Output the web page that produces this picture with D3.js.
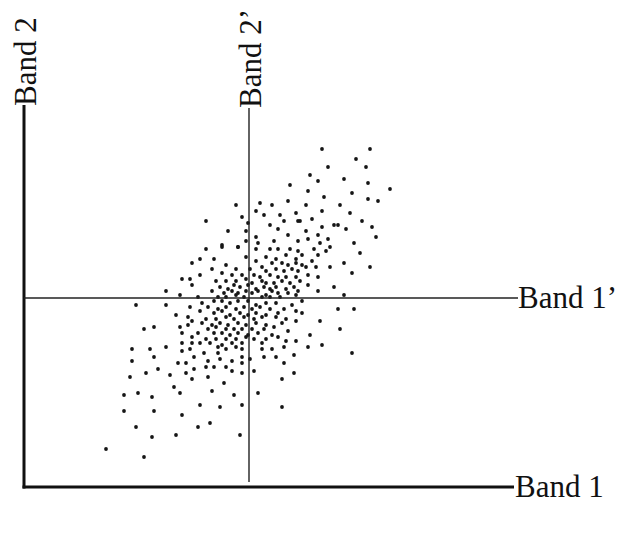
<!DOCTYPE html>
<html>
<head>
<meta charset="utf-8">
<script src="https://cdn.jsdelivr.net/npm/d3@7"></script>
<style>
  body { margin: 0; background: #fff; }
  svg text { font-family: "Liberation Serif", "DejaVu Serif", serif; fill: #111; }
</style>
</head>
<body>
<svg class="mon-svg" width="621" height="533"></svg>
<script>
// axes labels
const axisLabels = ["Band 1", "Band 2", "Band 1\u2019", "Band 2\u2019"];

// valeurs des pixels [band1, band2]
const samples = [
  [84,130],[79,122],[83,122],[84,119],[71,116],[78,114],
  [133,169],[106,159],[118,160],[124,159],[132,161],[91,151],[109,153],[116,156],[120,154],[128,154],
  [136,155],[112,150],[102,146],[111,146],[123,149],[127,147],[130,151],[137,151],[132,144],[111,141],
  [116,143],[125,141],[137,141],[99,139],[107,138],[117,140],
  [149,187],[173,187],[166,182],[152,178],[171,178],[143,174],[147,171],[160,172],[172,170],[183,167],
  [142,166],[164,165],[150,163],[172,162],[177,161],[141,159],[158,159],[149,156],[163,155],[144,152],
  [138,151],[169,151],[155,149],[157,149],[149,148],[161,147],[174,148],[141,146],[147,144],[176,143],
  [152,142],[142,142],[148,140],[165,140],[153,138],[145,137],[168,135],[151,136],[147,134],[144,131],
  [141,128],[146,128],[153,128],[160,130],[173,128],[142,124],[147,123],[164,125],[142,119],[155,118],
  [147,116],[160,114],
  [157,107],[165,107],[139,105],[148,101],[158,97],[143,94],[149,89],[142,88],[164,85],
  [56,109],[71,109],[83,108],[76,104],[82,103],[84,101],[78,98],[82,99],[60,97],[65,98],
  [79,95],[84,93],[79,90],[84,90],[71,88],[54,87],[63,87],[83,87],[79,86],[85,83],
  [65,83],[54,81],[77,80],[81,80],[67,77],[85,77],[61,75],[73,74],[81,75],[53,73],
  [84,72],[75,68],[78,65],[57,65],[50,64],[64,63],[88,59],[50,56],[65,56],[79,54],
  [56,48],[87,48],[64,43],[76,44],[41,37],[60,33],
  [98,58],[109,59],[129,58],[93,50],[108,44],
  [90,85],[92,81],[91,78],[92,73],[95,78],[98,82],[101,78],[97,85],[104,81],[104,76],
  [109,83],[109,80],[109,75],[100,70],[94,66],[105,64],[113,82],[115,76],[117,65],[120,83],
  [126,83],[130,80],[135,84],[129,72],[135,75],[119,87],[124,87],[130,88],[109,87],[106,88],
  [101,87],[97,88],
  [91,137],[99,138],[107,138],[116,137],[123,137],[127,137],[133,137],[137,136],
  [95,132],[111,133],[121,133],[126,132],[131,134],[136,132],[139,134],
  [88,132],[101,129],[116,131],[124,130],[129,130],[132,129],[136,130],[139,129],
  [94,127],[106,127],[113,127],[119,128],[121,126],[126,127],[130,126],[134,127],[137,126],
  [88,124],[99,125],[104,124],[109,124],[115,124],[118,123],[123,124],[127,123],[131,123],[136,123],
  [96,121],[101,121],[106,121],[111,122],[114,120],[119,121],[121,120],[125,120],[129,121],[133,120],[138,121],
  [98,118],[102,117],[105,119],[108,118],[112,119],[116,117],[120,118],[123,117],[126,118],[131,117],[135,118],
  [94,116],[100,115],[104,116],[107,115],[111,116],[114,115],[117,116],[121,114],[124,116],[127,115],[132,115],[137,116],
  [87,113],[97,113],[101,113],[106,114],[110,113],[119,113],[123,113],[128,113],[136,114],
  [89,110],[95,111],[99,111],[103,110],[107,111],[112,111],[116,109],[121,110],[126,110],[134,109],[139,111],
  [92,108],[97,107],[101,108],[106,107],[110,108],[114,107],[118,108],[123,107],[130,107],
  [88,106],[95,105],[99,106],[103,104],[108,105],[112,104],[116,105],[121,104],[127,105],[136,106],
  [91,102],[96,102],[101,103],[105,102],[110,103],[115,102],[119,103],[126,103],[131,102],
  [89,100],[94,99],[98,100],[102,99],[107,100],[111,99],[116,100],[121,99],[129,100],[136,101],
  [92,97],[96,98],[101,97],[105,97],[109,97],[114,97],[120,97],[125,98],
  [87,95],[95,95],[99,95],[103,94],[107,95],[112,94],[117,95],[124,94],[132,96],
  [91,92],[96,92],[101,92],[106,92],[111,93],[115,92],[121,92],[127,93],
  [88,90],[93,90],[99,89],[104,90],[109,90],[119,90],[131,91],[136,91]
];

// centre des nouveaux axes (Band 1', Band 2')
const meanBand1 = 112.5;
const meanBand2 = 112.5;

const svg = d3.select(".mon-svg");

const x = d3.scaleLinear().domain([0, 244]).range([24, 512]);
const y = d3.scaleLinear().domain([18, 209]).range([487, 105]);

// nuage de points
svg.append("g")
  .selectAll("circle")
  .data(samples)
  .enter()
  .append("circle")
  .attr("cx", d => x(d[0]))
  .attr("cy", d => y(d[1]))
  .attr("r", 1.9)
  .attr("fill", "#151515");

// axes originaux (traits epais)
svg.append("line")
  .attr("x1", x(0)).attr("x2", x(0))
  .attr("y1", y(209)).attr("y2", y(18) + 1.5)
  .attr("stroke", "#111").attr("stroke-width", 3);

svg.append("line")
  .attr("x1", x(0) - 1.5).attr("x2", x(245))
  .attr("y1", y(18)).attr("y2", y(18))
  .attr("stroke", "#111").attr("stroke-width", 3);

// axes tournes (traits fins)
svg.append("line")
  .attr("x1", x(0)).attr("x2", x(247))
  .attr("y1", y(meanBand2)).attr("y2", y(meanBand2))
  .attr("stroke", "#222").attr("stroke-width", 1.4);

svg.append("line")
  .attr("x1", x(meanBand1)).attr("x2", x(meanBand1))
  .attr("y1", y(207.5)).attr("y2", y(20.5))
  .attr("stroke", "#222").attr("stroke-width", 1.4);

// etiquettes
svg.append("text")
  .text(axisLabels[0])
  .attr("x", x(245) + 1)
  .attr("y", y(18) + 10)
  .attr("font-size", 31);

svg.append("text")
  .text(axisLabels[2])
  .attr("x", x(247))
  .attr("y", y(meanBand2) + 10)
  .attr("font-size", 31);

svg.append("text")
  .text(axisLabels[1])
  .attr("transform", "translate(" + (x(0) + 12) + "," + (y(209) + 1) + ") rotate(-90)")
  .attr("font-size", 31);

svg.append("text")
  .text(axisLabels[3])
  .attr("transform", "translate(" + (x(meanBand1) + 12) + "," + y(207.5) + ") rotate(-90)")
  .attr("font-size", 31);
</script>
</body>
</html>
